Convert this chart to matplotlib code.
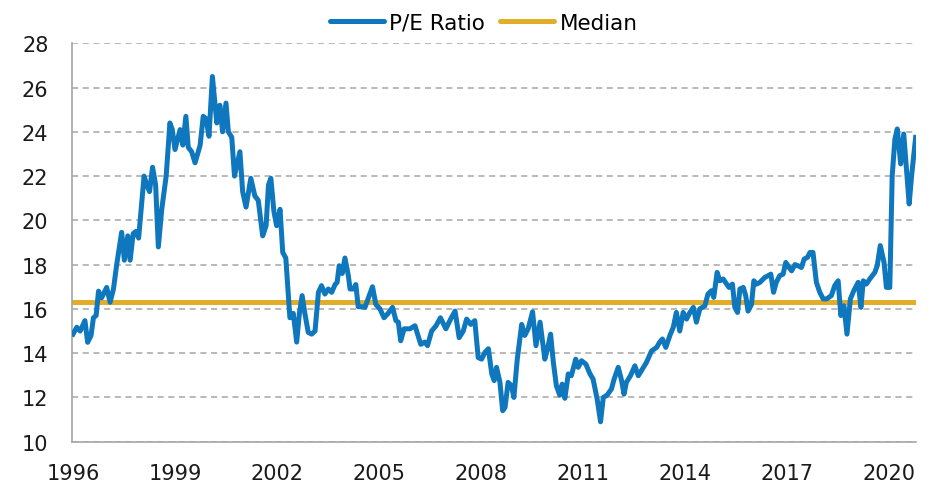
import matplotlib
matplotlib.use("Agg")
import matplotlib.pyplot as plt

# dates as decimal years
years = [
    1996.00, 1996.11, 1996.21, 1996.35, 1996.43, 1996.53, 1996.60, 1996.68, 1996.75, 1996.84,
    1996.99, 1997.09, 1997.19, 1997.28, 1997.43, 1997.51, 1997.61, 1997.68, 1997.77, 1997.85,
    1997.93, 1998.09, 1998.17, 1998.25, 1998.34, 1998.43, 1998.51, 1998.61, 1998.74, 1998.85,
    1998.92, 1999.00, 1999.15, 1999.23, 1999.32, 1999.39, 1999.49, 1999.59, 1999.74, 1999.83,
    1999.91, 2000.00, 2000.10, 2000.23, 2000.32, 2000.40, 2000.50, 2000.57, 2000.67, 2000.75,
    2000.91, 2000.99, 2001.09, 2001.23, 2001.35, 2001.45, 2001.58, 2001.68, 2001.75, 2001.82,
    2001.91, 2001.99, 2002.09, 2002.17, 2002.26, 2002.38, 2002.48, 2002.58, 2002.66, 2002.74,
    2002.82, 2002.92, 2003.02, 2003.12, 2003.22, 2003.31, 2003.41, 2003.51, 2003.61, 2003.71,
    2003.77, 2003.83, 2003.92, 2004.00, 2004.10, 2004.15, 2004.25, 2004.32, 2004.39, 2004.49,
    2004.59, 2004.69, 2004.81,
    2004.91, 2005.03, 2005.15, 2005.27, 2005.40, 2005.50, 2005.57, 2005.64, 2005.74, 2005.91,
    2006.06, 2006.23, 2006.35, 2006.43, 2006.55, 2006.68, 2006.81, 2006.97, 2007.11, 2007.24,
    2007.36, 2007.48, 2007.58, 2007.70, 2007.82, 2007.92, 2008.02, 2008.12, 2008.22, 2008.32,
    2008.39, 2008.46, 2008.56, 2008.64, 2008.71, 2008.80, 2008.90, 2008.97, 2009.07, 2009.20,
    2009.29, 2009.39, 2009.52, 2009.62, 2009.74, 2009.88, 2009.96, 2010.05, 2010.13, 2010.22,
    2010.32, 2010.39, 2010.47, 2010.57, 2010.66, 2010.79, 2010.86, 2010.96, 2011.09, 2011.21,
    2011.30, 2011.42, 2011.52, 2011.60, 2011.71, 2011.84, 2011.92, 2012.04, 2012.14, 2012.21,
    2012.28, 2012.40, 2012.53, 2012.63, 2012.75,
    2012.87, 2013.02, 2013.17, 2013.26, 2013.34, 2013.44, 2013.56, 2013.66, 2013.75, 2013.85,
    2013.95, 2014.05, 2014.15, 2014.25, 2014.34, 2014.44, 2014.59, 2014.68, 2014.78, 2014.85,
    2014.95, 2015.03, 2015.13, 2015.23, 2015.30, 2015.40, 2015.47, 2015.55, 2015.62, 2015.72,
    2015.79, 2015.86, 2015.96, 2016.03, 2016.11, 2016.21, 2016.35, 2016.45, 2016.53, 2016.61,
    2016.69, 2016.79, 2016.89, 2016.97, 2017.07, 2017.14, 2017.24, 2017.33, 2017.43, 2017.51,
    2017.61, 2017.68, 2017.77, 2017.87, 2017.97, 2018.07, 2018.17, 2018.31, 2018.41, 2018.51,
    2018.59, 2018.68, 2018.77, 2018.87, 2018.97, 2019.10, 2019.18, 2019.25, 2019.34, 2019.44,
    2019.59, 2019.66, 2019.75, 2019.86, 2019.93, 2020.03, 2020.10, 2020.18, 2020.25, 2020.35,
    2020.44, 2020.52, 2020.60, 2020.67, 2020.79,
]

pe = [
    14.86, 15.17, 15.00, 15.47, 14.49, 14.80, 15.60, 15.70, 16.80, 16.50,
    16.97, 16.30, 16.90, 17.95, 19.46, 18.20, 19.30, 18.20, 19.40, 19.50,
    19.20, 22.00, 21.60, 21.30, 22.40, 21.60, 18.80, 20.50, 22.00, 24.40,
    24.10, 23.20, 24.10, 23.40, 24.70, 23.30, 23.10, 22.60, 23.40, 24.70,
    24.60, 23.80, 26.50, 24.40, 25.20, 24.00, 25.30, 24.00, 23.75, 22.00,
    23.10, 21.30, 20.60, 21.90, 21.10, 20.90, 19.30, 19.76, 21.60, 21.90,
    20.40, 19.76, 20.50, 18.55, 18.30, 15.60, 15.80, 14.50, 15.80, 16.60,
    15.80, 14.94, 14.86, 15.00, 16.75, 17.05, 16.67, 16.90, 16.75, 17.10,
    17.20, 17.95, 17.60, 18.30, 17.50, 16.90, 16.90, 17.10, 16.10, 16.10,
    16.07, 16.50, 17.00,
    16.20, 16.00, 15.60, 15.80, 16.07, 15.47, 15.40, 14.56, 15.10, 15.10,
    15.24, 14.40, 14.50, 14.34, 15.00, 15.24, 15.60, 15.10, 15.54, 15.90,
    14.70, 15.00, 15.54, 15.30, 15.47, 13.80, 13.73, 14.04, 14.20, 13.06,
    12.76, 13.36, 12.68, 11.40, 11.55, 12.68, 12.53, 12.00, 13.73, 15.30,
    14.80, 15.10, 15.87, 14.34, 15.40, 13.73, 14.20, 14.86, 13.60, 12.53,
    12.10, 12.60, 11.96, 13.06, 12.98, 13.73, 13.36, 13.66, 13.50, 13.06,
    12.83, 11.93, 10.90, 12.00, 12.10, 12.38, 12.83, 13.36, 12.76, 12.15,
    12.68, 12.98, 13.43, 12.98, 13.28,
    13.58, 14.10, 14.26, 14.50, 14.64, 14.26, 14.80, 15.17, 15.84, 15.00,
    15.84, 15.54, 15.84, 16.07, 15.40, 16.00, 16.14, 16.67, 16.82, 16.52,
    17.65, 17.27, 17.35, 17.12, 16.97, 17.12, 16.07, 15.84, 16.90, 16.97,
    16.60, 15.90, 16.20, 17.27, 17.12, 17.20, 17.42, 17.50, 17.57, 16.75,
    17.20, 17.50, 17.57, 18.10, 17.87, 17.72, 18.00, 17.95, 17.87, 18.25,
    18.33, 18.55, 18.55, 17.20, 16.75, 16.45, 16.45, 16.60, 17.05, 17.27,
    15.70, 16.14, 14.86, 16.45, 16.82, 17.20, 16.07, 17.27, 17.12, 17.35,
    17.65, 17.95, 18.86, 18.10, 16.97, 16.97, 22.00, 23.67, 24.13, 22.55,
    23.90, 22.30, 20.74, 22.00, 23.75,
]

median = 16.3
tick_years = [1996, 1999, 2002, 2005, 2008, 2011, 2014, 2017, 2020]
y_ticks = [10, 12, 14, 16, 18, 20, 22, 24, 26, 28]

plt.rcParams['font.family'] = ['DejaVu Sans']

fig = plt.figure(figsize=(9.34, 4.85), dpi=100)
ax = fig.add_axes([0.0771, 0.0872, 0.9036, 0.8215])

ax.plot(years, pe, color='#0E77BD', lw=3.6, label='P/E Ratio', solid_joinstyle='round', zorder=3)
ax.axhline(median, color='#E2AD28', lw=3.6, label='Median', zorder=2)

ax.set_xlim(1995.97, 2020.8)
ax.set_ylim(10, 28)
ax.set_xticks(tick_years)
ax.set_xticklabels([str(y) for y in tick_years])
ax.set_yticks(y_ticks)

ax.grid(axis='y', color='#A6A6A6', linestyle=(0, (4, 3)), lw=1.1)
ax.set_axisbelow(True)
for s in ['top', 'right']:
    ax.spines[s].set_visible(False)
for s in ['left', 'bottom']:
    ax.spines[s].set_color('#A6A6A6')
    ax.spines[s].set_linewidth(1.2)
ax.tick_params(axis='both', length=0, labelsize=15, colors='#1a1a1a')
ax.tick_params(axis='y', pad=17)
ax.tick_params(axis='x', pad=15)

leg = ax.legend(loc='center', bbox_to_anchor=(0.488, 1.051), ncol=2, frameon=False,
                fontsize=15.5, handlelength=2.5, handletextpad=0.25, columnspacing=0.7,
                borderpad=0, borderaxespad=0)
for line in leg.get_lines():
    line.set_solid_capstyle('round')

plt.savefig('out.png', dpi=100)
